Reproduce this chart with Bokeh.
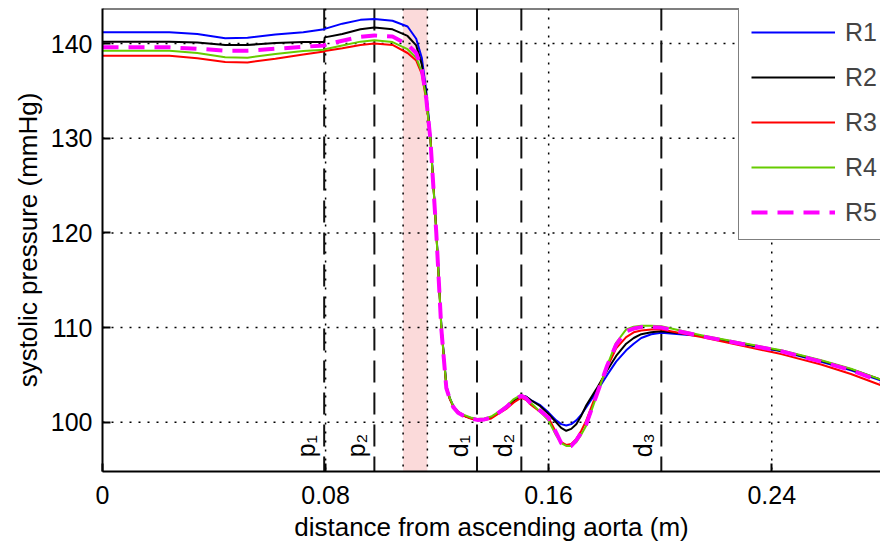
import numpy as np
from bokeh.plotting import figure
from bokeh.models import Range1d, FixedTicker, Span, BoxAnnotation
from bokeh.core.properties import value
from bokeh.embed import file_html
from bokeh.resources import INLINE

# ---------------- data ----------------
distance = [0.000, 0.024, 0.034, 0.044, 0.052, 0.062, 0.072, 0.0795, 0.0797, 0.086,
            0.0925, 0.0975, 0.104, 0.1094, 0.1125, 0.1145, 0.1161, 0.1176, 0.1197, 0.1215,
            0.1233, 0.1245, 0.1258, 0.1275, 0.1294, 0.1320, 0.1344, 0.1370, 0.1394, 0.1420,
            0.1448, 0.1475, 0.1502, 0.1520, 0.1538, 0.1570, 0.1599, 0.1627, 0.1645, 0.1663,
            0.1681, 0.1699, 0.1717, 0.1735, 0.1771, 0.1810, 0.1842, 0.1878, 0.1905, 0.1932,
            0.1968, 0.2004, 0.2147, 0.2290, 0.2434, 0.2577, 0.2684, 0.2792]

r1 = [141.2, 141.2, 141.0, 140.55, 140.6, 140.95, 141.2, 141.5, 141.55, 142.1,
      142.5, 142.6, 142.4, 141.8, 140.5, 138.5, 135.0, 130.2, 120.3, 110.3,
      103.9, 102.6, 101.7, 101.1, 100.7, 100.45, 100.3, 100.35, 100.5, 101.0,
      101.6, 102.3, 102.8, 102.7, 102.3, 101.8, 101.05, 100.2, 99.8, 99.65,
      99.8, 100.2, 100.8, 101.6, 103.2, 105.0, 106.4, 107.6, 108.3, 108.9,
      109.3, 109.45, 109.1, 108.3, 107.5, 106.4, 105.5, 104.4]
r2 = [140.2, 140.2, 140.1, 139.85, 139.85, 140.05, 140.15, 140.15, 140.65, 141.0,
      141.5, 141.7, 141.5, 140.8, 139.8, 137.8, 134.6, 130.0, 120.2, 110.2,
      103.8, 102.5, 101.7, 101.1, 100.7, 100.45, 100.3, 100.35, 100.5, 101.0,
      101.6, 102.3, 102.8, 102.7, 102.3, 101.7, 100.9, 100.0, 99.4, 99.1,
      99.3, 99.8, 100.7, 101.8, 103.5, 105.5, 107.0, 108.3, 108.9, 109.3,
      109.5, 109.6, 109.15, 108.35, 107.55, 106.5, 105.6, 104.5]
r3 = [138.7, 138.7, 138.45, 138.05, 138.0, 138.4, 138.85, 139.15, 139.2, 139.5,
      139.85, 140.0, 139.85, 139.0, 138.2, 136.8, 134.0, 129.9, 120.1, 110.0,
      103.7, 102.5, 101.6, 101.0, 100.7, 100.4, 100.2, 100.25, 100.4, 100.9,
      101.4, 102.1, 102.6, 102.35, 101.8, 101.1, 100.5, 98.9, 97.9, 97.6,
      97.7, 98.25, 99.1, 100.2, 103.0, 105.8, 107.8, 109.0, 109.5, 109.7,
      109.8, 109.8, 109.0, 108.1, 107.2, 106.1, 105.1, 103.9]
r4 = [139.25, 139.25, 139.0, 138.55, 138.5, 138.9, 139.2, 139.35, 139.4, 139.8,
      140.2, 140.35, 140.15, 139.4, 138.5, 137.0, 134.2, 129.9, 120.1, 110.1,
      103.8, 102.6, 101.7, 101.1, 100.8, 100.5, 100.35, 100.4, 100.6, 101.1,
      101.7, 102.45, 102.9, 102.6, 102.0, 101.1, 100.2, 98.6, 97.8, 97.5,
      97.5, 97.9, 98.7, 99.65, 102.7, 106.0, 108.4, 109.8, 110.1, 110.2,
      110.2, 110.15, 109.2, 108.4, 107.6, 106.55, 105.65, 104.5]
r5 = [139.6, 139.6, 139.45, 139.25, 139.25, 139.45, 139.65, 139.8, 139.85, 140.3,
      140.7, 140.85, 140.75, 139.9, 139.0, 137.3, 134.2, 129.8, 120.0, 109.9,
      103.6, 102.5, 101.6, 101.0, 100.7, 100.4, 100.25, 100.3, 100.5, 101.0,
      101.6, 102.35, 102.8, 102.5, 101.9, 101.2, 100.5, 98.9, 97.8, 97.4,
      97.5, 98.1, 98.9, 99.8, 102.8, 106.0, 108.2, 109.6, 109.9, 110.05,
      110.05, 110.0, 109.1, 108.3, 107.5, 106.4, 105.5, 104.3]

series_names = ["R1", "R2", "R3", "R4", "R5"]
x_ticks = [0, 0.08, 0.16, 0.24]
x_tick_labels = ["0", "0.08", "0.16", "0.24"]
y_ticks = [100, 110, 120, 130, 140]
marker_names = ["p\u2081", "p\u2082", "d\u2081", "d\u2082", "d\u2083"]
marker_pos = [0.0795, 0.0975, 0.1343, 0.1502, 0.2004]
band_edges = [0.1078, 0.1165]

# ---------------- figure ----------------
FONT = "Liberation Sans"
p = figure(width=880, height=554, output_backend="svg", toolbar_location=None,
           x_range=Range1d(0, 0.279), y_range=Range1d(94.8, 143.7),
           min_border_left=102, min_border_right=0, min_border_top=8, min_border_bottom=83)
p.background_fill_color = "white"
p.border_fill_color = "white"
p.outline_line_color = None
p.xgrid.visible = False
p.ygrid.visible = False

# shaded band
p.add_layout(BoxAnnotation(left=band_edges[0], right=band_edges[1], fill_color="#fbdada",
                           fill_alpha=1.0, line_alpha=0, level="underlay"))

# grid lines (dotted)
for xv in x_ticks[1:]:
    p.add_layout(Span(location=xv, dimension="height", line_color="black", line_width=1.5,
                      line_dash="2 7", level="underlay"))
for yv in y_ticks:
    p.add_layout(Span(location=yv, dimension="width", line_color="black", line_width=1.5,
                      line_dash="2 7", level="underlay"))
for be in band_edges:
    p.add_layout(Span(location=be, dimension="height", line_color="black", line_width=1.5,
                      line_dash="2 6", level="underlay"))
for mp in marker_pos:
    p.add_layout(Span(location=mp, dimension="height", line_color="#111111", line_width=2,
                      line_dash="22 10", level="underlay"))

# curves
colors = ["#0000ff", "#000000", "#ff0000", "#66cc00", "#ff00ff"]
data = [r1, r2, r3, r4, r5]
for name, ys, c in zip(series_names, data, colors):
    if name == "R5":
        p.line(distance, ys, line_color=c, line_width=4, line_dash="16 10", legend_label=name)
    else:
        p.line(distance, ys, line_color=c, line_width=2, legend_label=name)

# marker labels
p.text(x=marker_pos, y=[96.3] * len(marker_pos), text=marker_names, angle=np.pi / 2,
       text_align="left", text_baseline="bottom", x_offset=-4,
       text_font=value(FONT), text_font_size="25px", text_color="black")

# top border
p.add_layout(Span(location=143.7, dimension="width", line_color="black", line_width=2, level="overlay"))

# axes
for ax in (p.xaxis[0], p.yaxis[0]):
    ax.axis_line_width = 2
    ax.axis_line_color = "black"
    ax.major_tick_in = 8
    ax.major_tick_out = 0
    ax.major_tick_line_width = 2
    ax.major_tick_line_color = "black"
    ax.minor_tick_line_color = None
    ax.major_label_text_font = FONT
    ax.major_label_text_font_size = "25px"
    ax.major_label_text_color = "black"
    ax.axis_label_text_font = FONT
    ax.axis_label_text_font_size = "26px"
    ax.axis_label_text_font_style = "normal"
    ax.axis_label_text_color = "black"

p.xaxis.ticker = FixedTicker(ticks=x_ticks)
p.xaxis.major_label_overrides = {t: l for t, l in zip(x_ticks, x_tick_labels)}
p.yaxis.ticker = FixedTicker(ticks=y_ticks)
p.xaxis.axis_label = "distance from ascending aorta (m)"
p.yaxis.axis_label = "systolic pressure (mmHg)"
p.xaxis.major_label_standoff = 14
p.xaxis.axis_label_standoff = 5
p.yaxis.major_label_standoff = 10
p.yaxis.axis_label_standoff = 5

# legend
lg = p.legend[0]
lg.location = (636, 231)
lg.glyph_width = 84
lg.glyph_height = 30
lg.label_height = 30
lg.label_width = 60
lg.spacing = 15
lg.padding = 12
lg.margin = 0
lg.label_standoff = 10
lg.label_text_font = FONT
lg.label_text_font_size = "25px"
lg.border_line_color = "black"
lg.border_line_width = 1.5
lg.background_fill_alpha = 1.0

open("out.html", "w").write(file_html(p, INLINE))
